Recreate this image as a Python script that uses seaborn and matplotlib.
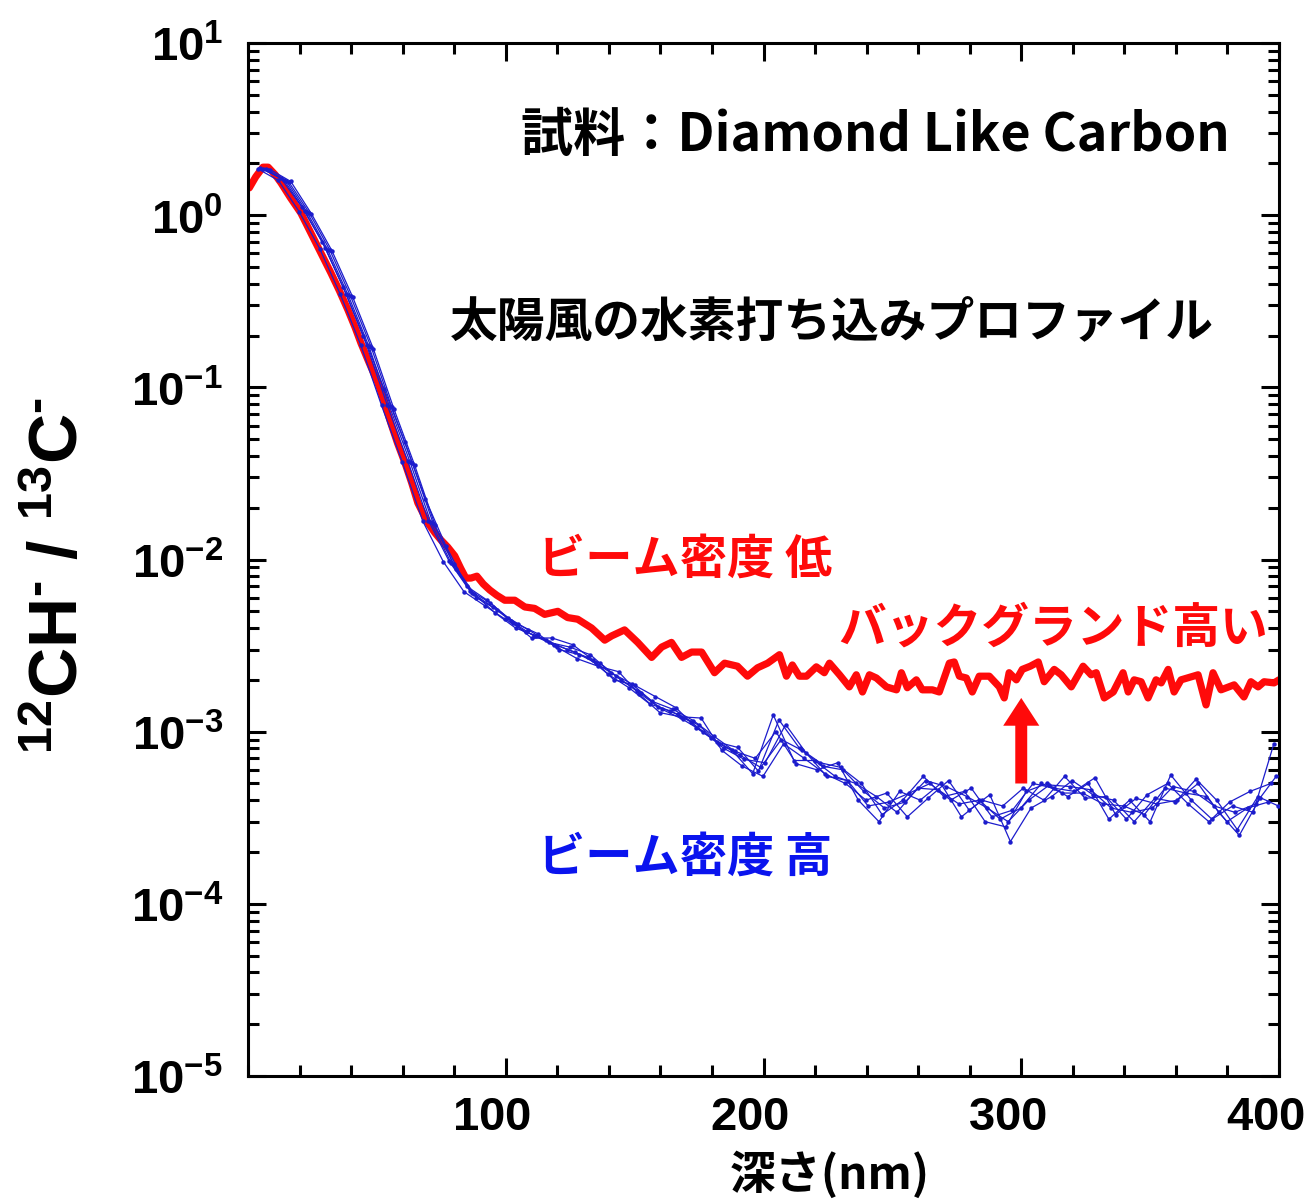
import numpy as np
import pandas as pd
import matplotlib
matplotlib.use("Agg")
import matplotlib.pyplot as plt
import seaborn as sns
from matplotlib import font_manager, ticker, transforms

# ---------------- data ----------------
# low beam density run (single profile)
depth_low = [0.5, 3.0, 5.8, 7.8, 10.5, 12.8, 16.5, 20.5, 24.0, 27.1, 30.0, 32.2, 35.5, 38.8,
             41.5, 43.8, 47.0, 50.4, 53.0, 55.4, 58.0, 60.9, 63.5, 65.9, 69.8, 72.5, 74.8,
             77.5, 80.2, 82.5, 84.5, 86.5, 88.8, 91.3, 93.8, 96.5, 99.6, 103.5, 107.4, 111.2,
             115.1, 120.2, 124.0, 127.9, 133.3, 138.4, 141.1, 146.1, 151.2, 156.6, 160.5,
             164.3, 168.2, 172.1, 176.0, 181.0, 184.9, 189.9, 193.8, 197.7, 201.6, 206.2,
             208.9, 211.2, 213.9, 216.7, 220.5, 223.6, 225.6, 229.5, 233.3, 236.0, 238.4,
             241.1, 243.8, 247.7, 251.6, 253.5, 255.8, 259.3, 261.6, 265.5, 268.2, 272.1,
             274.0, 276.0, 278.7, 281.0, 283.7, 287.6, 291.5, 293.4, 295.3, 298.1, 300.4,
             303.5, 306.6, 308.9, 312.8, 315.5, 319.4, 324.0, 327.1, 329.1, 332.2, 335.7,
             339.5, 341.5, 343.8, 346.5, 349.2, 352.3, 354.3, 357.0, 359.3, 362.0, 365.9,
             368.6, 371.7, 374.4, 377.5, 382.6, 386.4, 389.1, 391.9, 394.2, 398.1, 400.0]
ratio_low = [1.44, 1.67, 1.90, 1.90, 1.72, 1.54, 1.26, 1.03, 0.81, 0.653, 0.535, 0.461, 0.363,
             0.281, 0.224, 0.181, 0.139, 0.106, 0.081, 0.0621, 0.0475, 0.0364, 0.0279, 0.0213,
             0.0163, 0.0143, 0.0130, 0.0118, 0.0105, 0.0089, 0.0078, 0.0078, 0.0080, 0.0072,
             0.00665, 0.0062, 0.0058, 0.0058, 0.0053, 0.0052, 0.0048, 0.0050, 0.0046, 0.0045,
             0.0040, 0.0034, 0.0036, 0.0039, 0.0033, 0.0027, 0.0031, 0.0033, 0.0027, 0.0029,
             0.0029, 0.0022, 0.0025, 0.0024, 0.0021, 0.00235, 0.0025, 0.0028, 0.0021, 0.00244,
             0.0021, 0.0021, 0.00238, 0.0022, 0.0025, 0.00214, 0.00182, 0.00214, 0.0017,
             0.00214, 0.00205, 0.00182, 0.00175, 0.0022, 0.0018, 0.0020, 0.00175, 0.00175,
             0.0017, 0.0025, 0.00254, 0.0021, 0.00205, 0.0017, 0.0021, 0.0021, 0.00182,
             0.00157, 0.0022, 0.0020, 0.0023, 0.0024, 0.00254, 0.00195, 0.0023, 0.00214,
             0.00182, 0.0024, 0.00214, 0.0022, 0.00157, 0.0017, 0.0022, 0.0017, 0.0020,
             0.00195, 0.00157, 0.0020, 0.00192, 0.0023, 0.0017, 0.0020, 0.00208, 0.00214,
             0.00143, 0.0022, 0.00175, 0.00187, 0.00159, 0.00195, 0.00182, 0.00195, 0.00192,
             0.0020]

# high beam density runs: six repeated profiles, 8 nm depth step,
# each run with its own small depth-scale offset
depth_high = np.arange(6, 400, 8)
depth_offset_high = [0.0, 1.8, -1.2, 2.6, -2.2, 0.9]
ratio_high_1 = [1.85, 1.60, 1.06, 0.645, 0.350, 0.176, 0.0790, 0.0372, 0.0168, 0.0098, 0.0066,
                0.0056, 0.0044, 0.0035, 0.0035, 0.0032, 0.0026, 0.0020, 0.00186, 0.00160,
                0.00138, 0.00105, 0.00087, 0.00081, 0.00059,
                0.00117, 0.00080, 0.00066, 0.00062, 0.00050, 0.00033, 0.00040, 0.00055,
                0.00042, 0.00045, 0.00030, 0.00028, 0.00045, 0.00050, 0.00042, 0.00050,
                0.00031, 0.00040, 0.00030, 0.00056, 0.00040, 0.00031, 0.00037, 0.00034, 0.00085]
ratio_high_2 = [1.82, 1.56, 1.03, 0.625, 0.338, 0.171, 0.0765, 0.0362, 0.0163, 0.0094, 0.0063,
                0.0049, 0.0040, 0.0036, 0.0031, 0.00265, 0.0024, 0.00223, 0.00165, 0.00129,
                0.00122, 0.00120, 0.00078, 0.00063, 0.00055,
                0.00085, 0.00070, 0.00057, 0.00050, 0.00040, 0.00044, 0.00032, 0.00041,
                0.00052, 0.00035, 0.00043, 0.00023, 0.00036, 0.00042, 0.00052, 0.00043,
                0.00040, 0.00030, 0.00041, 0.00039, 0.00053, 0.00040, 0.00027, 0.00042, 0.00037]
ratio_high_3 = [1.88, 1.64, 1.12, 0.70, 0.385, 0.200, 0.098, 0.0480, 0.0225, 0.0120, 0.0070,
                0.0058, 0.0046, 0.0039, 0.0033, 0.0031, 0.0028, 0.0022, 0.00190, 0.00150,
                0.00135, 0.00116, 0.00094, 0.00077, 0.00070,
                0.00100, 0.00065, 0.00060, 0.00066, 0.00040, 0.00030, 0.00045, 0.00040,
                0.00050, 0.00032, 0.00040, 0.00037, 0.00047, 0.00040, 0.00055, 0.00041,
                0.00042, 0.00031, 0.00043, 0.00050, 0.00038, 0.00030, 0.00039, 0.00045, 0.00050]
ratio_high_4 = [1.84, 1.57, 1.02, 0.62, 0.335, 0.168, 0.0750, 0.0355, 0.0158, 0.0088, 0.0060,
                0.0051, 0.0042, 0.0037, 0.0030, 0.0028, 0.0025, 0.00200, 0.00168, 0.00135,
                0.00118, 0.00100, 0.00080, 0.00069, 0.00066,
                0.00110, 0.00075, 0.00055, 0.00052, 0.00037, 0.00039, 0.00044, 0.00050,
                0.00040, 0.00047, 0.00032, 0.00035, 0.00050, 0.00047, 0.00045, 0.00054,
                0.00033, 0.00041, 0.00038, 0.00040, 0.00050, 0.00034, 0.00025, 0.00041, 0.00047]
ratio_high_5 = [1.86, 1.59, 1.05, 0.64, 0.347, 0.175, 0.0785, 0.0370, 0.0167, 0.0097, 0.0065,
                0.0054, 0.0045, 0.0038, 0.0034, 0.0030, 0.0027, 0.00215, 0.00180, 0.00145,
                0.00132, 0.00114, 0.00092, 0.00078, 0.00057,
                0.00125, 0.00068, 0.00068, 0.00055, 0.00050, 0.00042, 0.00034, 0.00047,
                0.00046, 0.00038, 0.00040, 0.00031, 0.00036, 0.00050, 0.00044, 0.00044,
                0.00038, 0.00037, 0.00033, 0.00047, 0.00044, 0.00042, 0.00030, 0.00036, 0.00039]
ratio_high_6 = [1.85, 1.58, 1.04, 0.63, 0.342, 0.173, 0.0775, 0.0367, 0.0165, 0.0095, 0.0064,
                0.0053, 0.0043, 0.0036, 0.0032, 0.0029, 0.0025, 0.0021, 0.00172, 0.00140,
                0.00126, 0.00109, 0.00085, 0.00073, 0.00062,
                0.00090, 0.00078, 0.00063, 0.00060, 0.00045, 0.00036, 0.00039, 0.00052,
                0.00048, 0.00042, 0.00036, 0.00030, 0.00040, 0.00049, 0.00048, 0.00046,
                0.00036, 0.00034, 0.00036, 0.00048, 0.00045, 0.00037, 0.00034, 0.00038, 0.00055]

y_exponents = [-5, -4, -3, -2, -1, 0, 1]
x_major = [100, 200, 300, 400]

# ---------------- style ----------------
sns.set_theme(style="ticks")
available = {f.name for f in font_manager.fontManager.ttflist}
num_font = "Liberation Sans Narrow" if "Liberation Sans Narrow" in available else "Liberation Sans"
jp_font = ["Noto Sans CJK JP", "DejaVu Sans"]

plt.rcParams["font.family"] = jp_font
plt.rcParams["text.color"] = "black"
plt.rcParams["mathtext.fontset"] = "custom"
plt.rcParams["mathtext.rm"] = "Liberation Sans:bold"
plt.rcParams["mathtext.bf"] = "Liberation Sans:bold"
plt.rcParams["mathtext.it"] = "Liberation Sans:bold"
plt.rcParams["mathtext.sf"] = f"{num_font}:bold"

RED = "#ff0a0a"
BLUE_LINE = "#1c1ccc"
BLUE_TEXT = "#0a14ee"

W, H = 1312, 1202
fig = plt.figure(figsize=(W / 100, H / 100), dpi=100)
ax = fig.add_axes([248 / W, 1 - 1076 / H, (1279 - 248) / W, (1076 - 43) / H])

# ---------------- curves ----------------
df_low = pd.DataFrame({"depth": depth_low, "ratio": ratio_low})
sns.lineplot(data=df_low, x="depth", y="ratio", ax=ax, color=RED, linewidth=5.2,
             estimator=None, sort=False, zorder=2)

high_runs = [ratio_high_1, ratio_high_2, ratio_high_3, ratio_high_4, ratio_high_5, ratio_high_6]
df_high = pd.concat(
    [pd.DataFrame({"depth": depth_high + off, "ratio": r, "run": i})
     for i, (r, off) in enumerate(zip(high_runs, depth_offset_high))],
    ignore_index=True)
df_high = df_high[df_high["depth"] <= 400]
sns.lineplot(data=df_high, x="depth", y="ratio", units="run", estimator=None, ax=ax,
             color=BLUE_LINE, linewidth=0.9, marker="o", markersize=3.2,
             markeredgewidth=0, sort=False, zorder=3)

# ---------------- axes ----------------
ax.set_yscale("log")
ax.set_ylim(1e-5, 1e1)
ax.set_xlim(0, 400)
ax.set_xlabel("")
ax.set_ylabel("")

ax.yaxis.set_major_locator(ticker.FixedLocator([10.0 ** e for e in y_exponents]))
ax.yaxis.set_minor_locator(ticker.LogLocator(base=10, subs=np.arange(2, 10), numticks=20))
ax.yaxis.set_major_formatter(
    ticker.FuncFormatter(lambda v, p: r"$\mathsf{10^{%d}}$" % int(round(np.log10(v)))))
ax.yaxis.set_minor_formatter(ticker.NullFormatter())

ax.xaxis.set_major_locator(ticker.FixedLocator(x_major))
ax.xaxis.set_minor_locator(ticker.MultipleLocator(20))
ax.xaxis.set_major_formatter(ticker.FuncFormatter(lambda v, p: r"$\mathsf{%d}$" % v))

for side in ax.spines.values():
    side.set_linewidth(2.2)
    side.set_color("black")

ax.tick_params(which="both", direction="in", top=True, right=True, width=2.2,
               color="black", labelcolor="black")
ax.tick_params(which="major", length=13)
ax.tick_params(which="minor", length=8)
ax.tick_params(axis="y", which="major", labelsize=34, pad=18)
ax.tick_params(axis="x", which="major", labelsize=34, pad=12)
ax.grid(False)

# ---------------- annotations ----------------
def fpos(px, py):
    return px / W, 1 - py / H

fig.text(*fpos(1230, 135), "試料：Diamond Like Carbon", ha="right", va="center",
         fontsize=37.5, fontweight="bold", color="black")
fig.text(*fpos(450, 323), "太陽風の水素打ち込みプロファイル", ha="left", va="center",
         fontsize=34.4, fontweight="bold", color="black")
fig.text(*fpos(538, 560), "ビーム密度 低", ha="left", va="center",
         fontsize=34, fontweight="bold", color=RED)
fig.text(*fpos(838, 628), "バックグランド高い", ha="left", va="center",
         fontsize=34.4, fontweight="bold", color=RED)
fig.text(*fpos(538, 858), "ビーム密度 高", ha="left", va="center",
         fontsize=34, fontweight="bold", color=BLUE_TEXT)

ax.annotate("", xy=(300, 1.57e-3), xytext=(300, 5.0e-4),
            arrowprops=dict(arrowstyle="simple,head_width=1.3,head_length=1.0,tail_width=0.43",
                            fc=RED, ec="none", mutation_scale=20, shrinkA=0, shrinkB=0))

fig.text(*fpos(60, 575), "$^{12}$CH$^{‐}$ / $^{13}$C$^{‐}$", rotation=90,
         ha="center", va="center", fontsize=50, fontweight="bold",
         family="Liberation Sans", color="black")
fig.text(*fpos(830, 1175), "深さ(nm)", ha="center", va="center",
         fontsize=33, fontweight="bold", color="black")

fig.canvas.draw()
shift = transforms.ScaledTranslation(-0.14, 0, fig.dpi_scale_trans)
for lab in ax.get_xticklabels():
    lab.set_transform(lab.get_transform() + shift)

fig.savefig("out.png", dpi=100)
